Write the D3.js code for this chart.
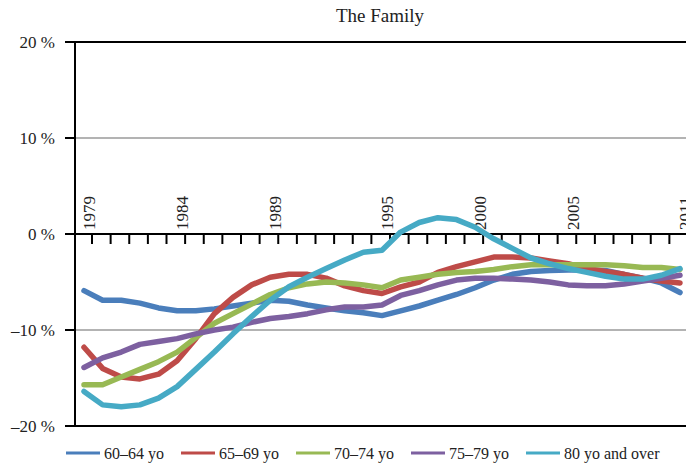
<!DOCTYPE html>
<html>
<head>
<meta charset="utf-8">
<title>The Family</title>
<script src="https://cdn.jsdelivr.net/npm/d3@7"></script>
<style>
  body { margin: 0; background: #fff; }
  svg { display: block; font-family: "Liberation Serif", "DejaVu Serif", serif; }
</style>
</head>
<body>
<svg width="686" height="465"></svg>
<script>
// years on the category axis
const years = d3.range(1979, 2012);
const labelYears = [1979, 1984, 1989, 1995, 2000, 2005, 2011];
const yTicks = [20, 10, 0, -10, -20];

// percent change
const age6064 = [-5.9, -6.9, -6.9, -7.2, -7.7, -8.0, -8.0, -7.8, -7.5, -7.2, -6.9, -7.0, -7.4, -7.7, -8.0, -8.2, -8.5, -8.0, -7.5, -6.9, -6.3, -5.6, -4.8, -4.2, -3.9, -3.8, -3.75, -3.75, -3.8, -4.2, -4.6, -5.1, -6.1];
const age6569 = [-11.8, -14.0, -14.9, -15.1, -14.6, -13.2, -10.9, -8.3, -6.6, -5.3, -4.5, -4.2, -4.2, -4.6, -5.4, -5.9, -6.2, -5.5, -5.0, -4.0, -3.4, -2.9, -2.4, -2.4, -2.5, -2.8, -3.1, -3.6, -3.9, -4.2, -4.6, -4.9, -5.1];
const age7074 = [-15.7, -15.7, -14.9, -14.1, -13.3, -12.3, -10.8, -9.3, -8.3, -7.3, -6.3, -5.6, -5.2, -5.0, -5.1, -5.3, -5.6, -4.8, -4.5, -4.2, -4.0, -3.9, -3.7, -3.4, -3.2, -3.2, -3.2, -3.2, -3.2, -3.3, -3.5, -3.5, -3.7];
const age7579 = [-13.9, -12.9, -12.3, -11.5, -11.2, -10.9, -10.4, -10.0, -9.7, -9.2, -8.8, -8.6, -8.3, -7.9, -7.6, -7.6, -7.4, -6.4, -5.9, -5.3, -4.8, -4.6, -4.6, -4.7, -4.8, -5.0, -5.3, -5.4, -5.4, -5.2, -4.9, -4.6, -4.3];
const age80plus = [-16.4, -17.8, -18.0, -17.8, -17.1, -15.9, -14.1, -12.3, -10.4, -8.6, -6.9, -5.5, -4.5, -3.6, -2.7, -1.9, -1.7, 0.2, 1.2, 1.7, 1.5, 0.7, -0.5, -1.5, -2.5, -3.1, -3.6, -4.0, -4.4, -4.7, -4.7, -4.3, -3.6];

const seriesNames = ['60–64 yo', '65–69 yo', '70–74 yo', '75–79 yo', '80 yo and over'];
const seriesValues = [age6064, age6569, age7074, age7579, age80plus];
const colors = ['#4a7ebb', '#be4b48', '#98b954', '#7d60a0', '#46aac5'];

const svg = d3.select('svg');
const plotLeft = 75, plotTop = 42, plotBottom = 426;

const x = d3.scalePoint().domain(years).range([84, 680]);
const y = d3.scaleLinear().domain([-20, 20]).range([plotBottom, plotTop]);

// title
svg.append('text')
  .attr('x', 380)
  .attr('y', 22)
  .attr('text-anchor', 'middle')
  .attr('font-size', 19)
  .attr('fill', '#222')
  .text('The Family');

// horizontal grid lines at +/-10
svg.append('g')
  .selectAll('line')
  .data([10, -10])
  .enter()
  .append('line')
  .attr('x1', plotLeft)
  .attr('x2', 686)
  .attr('y1', d => y(d))
  .attr('y2', d => y(d))
  .attr('stroke', '#9a9a9a')
  .attr('stroke-width', 1.5);

// top and bottom border lines
svg.append('g')
  .selectAll('line')
  .data([20, -20])
  .enter()
  .append('line')
  .attr('x1', plotLeft)
  .attr('x2', 686)
  .attr('y1', d => y(d))
  .attr('y2', d => y(d))
  .attr('stroke', '#000')
  .attr('stroke-width', 2);

// y axis
const yAxis = svg.append('g').attr('transform', `translate(${plotLeft},0)`);
yAxis.append('line')
  .attr('y1', y(20))
  .attr('y2', y(-20))
  .attr('stroke', '#000')
  .attr('stroke-width', 2);
yAxis.selectAll('.ytick')
  .data(yTicks)
  .enter()
  .append('line')
  .attr('x1', -10)
  .attr('x2', 0)
  .attr('y1', d => y(d))
  .attr('y2', d => y(d))
  .attr('stroke', '#000')
  .attr('stroke-width', 2);
yAxis.selectAll('text')
  .data(yTicks)
  .enter()
  .append('text')
  .attr('x', -20)
  .attr('y', d => y(d))
  .attr('dy', '0.35em')
  .attr('text-anchor', 'end')
  .attr('font-size', 17)
  .attr('fill', '#222')
  .text(d => (d < 0 ? '–' + Math.abs(d) : d) + ' %');

// x axis along the zero line
const xAxis = svg.append('g');
xAxis.append('line')
  .attr('x1', plotLeft)
  .attr('x2', 686)
  .attr('y1', y(0))
  .attr('y2', y(0))
  .attr('stroke', '#000')
  .attr('stroke-width', 2);
xAxis.selectAll('.xtick')
  .data(years)
  .enter()
  .append('line')
  .attr('x1', d => x(d) + 8)
  .attr('x2', d => x(d) + 8)
  .attr('y1', y(0))
  .attr('y2', y(0) + 10)
  .attr('stroke', '#000')
  .attr('stroke-width', 2);
xAxis.selectAll('text')
  .data(labelYears)
  .enter()
  .append('text')
  .attr('transform', d => `translate(${x(d) + 5},${y(0) - 4}) rotate(-90)`)
  .attr('dy', '0.35em')
  .attr('text-anchor', 'start')
  .attr('font-size', 17)
  .attr('fill', '#222')
  .text(d => d);

// lines
const line = d3.line()
  .x((d, i) => x(years[i]))
  .y(d => y(d));

svg.append('g')
  .selectAll('path')
  .data(seriesValues)
  .enter()
  .append('path')
  .attr('d', d => line(d))
  .attr('fill', 'none')
  .attr('stroke', (d, i) => colors[i])
  .attr('stroke-width', 5.5)
  .attr('stroke-linejoin', 'round')
  .attr('stroke-linecap', 'round');

// legend, laid out from the text widths
const legend = svg.append('g').attr('transform', 'translate(66,453)');
let lx = 0;
seriesNames.forEach((name, i) => {
  const item = legend.append('g').attr('transform', `translate(${lx},0)`);
  item.append('line')
    .attr('x1', 0)
    .attr('x2', 34)
    .attr('stroke', colors[i])
    .attr('stroke-width', 3);
  const t = item.append('text')
    .attr('x', 38)
    .attr('dy', '0.35em')
    .attr('font-size', 16)
    .attr('fill', '#222')
    .text(name);
  lx += 38 + t.node().getComputedTextLength() + 17;
});
</script>
</body>
</html>
